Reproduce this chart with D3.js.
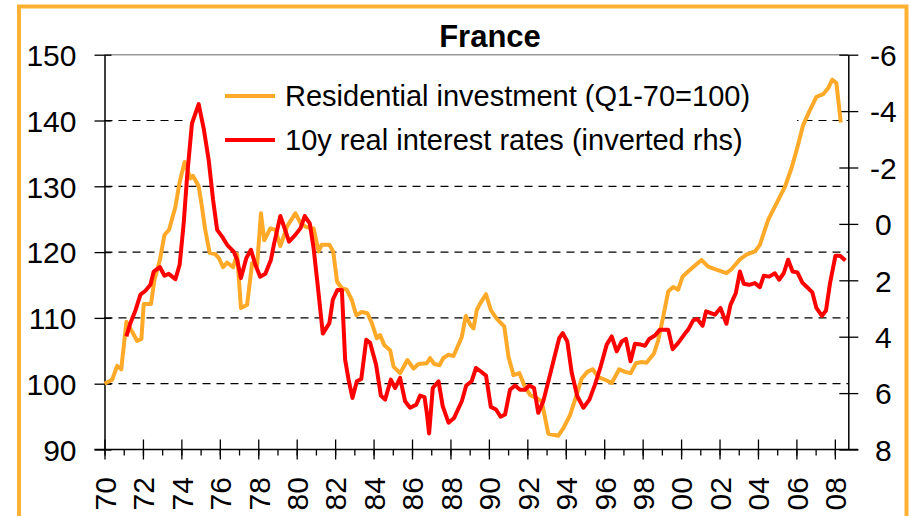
<!DOCTYPE html>
<html><head><meta charset="utf-8">
<script src="https://cdn.jsdelivr.net/npm/d3@7"></script>
<style>html,body{margin:0;padding:0;background:#fff;overflow:hidden}text{font-family:"Liberation Sans",Arial,sans-serif;fill:#000}</style>
</head><body>
<svg id="c" width="910" height="516"></svg>
<script>
const title = "France";
const legendLabels = ["Residential investment (Q1-70=100)", "10y real interest rates (inverted rhs)"];
const leftTicks = [90, 100, 110, 120, 130, 140, 150];
const rightTicks = [-6, -4, -2, 0, 2, 4, 6, 8];
const yearTicks = d3.range(1970, 2009, 2);
const yearLabels = yearTicks.map(y => String(y % 100).padStart(2, "0"));

const resYears = [1970.0,1970.4,1970.66,1970.87,1971.14,1971.44,1971.7,1971.92,1972.04,1972.42,1972.6,1972.88,1973.12,1973.36,1973.69,1973.9,1974.17,1974.47,1974.6,1974.9,1975.07,1975.24,1975.47,1975.76,1975.95,1976.17,1976.38,1976.69,1976.9,1977.1,1977.42,1977.68,1977.94,1978.14,1978.31,1978.63,1978.89,1979.15,1979.5,1979.93,1980.2,1980.5,1980.88,1981.14,1981.3,1981.7,1981.9,1982.1,1982.35,1982.6,1982.87,1983.1,1983.39,1983.68,1983.91,1984.17,1984.34,1984.55,1984.86,1985.04,1985.38,1985.76,1986.08,1986.34,1986.77,1986.94,1987.15,1987.43,1987.63,1987.9,1988.16,1988.59,1988.8,1989.05,1989.2,1989.37,1989.55,1989.85,1990.1,1990.4,1990.8,1991.02,1991.28,1991.59,1991.83,1992.14,1992.49,1992.75,1993.09,1993.61,1993.87,1994.22,1994.53,1994.83,1995.12,1995.4,1995.69,1996.04,1996.39,1996.78,1997.08,1997.37,1997.65,1997.95,1998.2,1998.59,1998.81,1999.07,1999.33,1999.59,1999.85,2000.08,2000.54,2001.06,2001.41,2001.76,2002.36,2002.62,2003.06,2003.4,2003.84,2004.1,2004.3,2004.53,2004.88,2005.4,2005.74,2006.04,2006.35,2006.66,2007.04,2007.39,2007.65,2007.87,2008.08,2008.31];
const resValues = [100,100.6,102.7,102.2,109.4,107.9,106.5,106.8,112.1,112.1,115.8,118.8,122.6,123.4,126.9,130.5,133.7,131.2,131.6,130,126.9,123.4,119.9,119.7,119.1,117.7,118.4,117.7,119.7,111.5,112,118.3,118,125.9,121.8,123.6,123.4,120.9,123.9,125.9,124.4,123.8,123.6,120.1,121.1,121.1,120.1,115.5,114.5,114.3,112.7,110.4,110.9,110.7,109.2,106.9,107.4,105.9,105.1,102.6,101.6,103.6,102.3,103,103.1,103.9,103,102.8,103.9,104.4,104.2,107.1,110.3,108.9,108.4,111.2,112.2,113.6,111.2,109.9,108.7,104.1,101.3,101.6,99.8,98.3,97.8,97.3,92.4,92.1,93.2,95.2,98,100.8,101.8,102.2,101,100.6,100.1,102.2,101.8,101.6,103.1,103.3,103.2,104.6,106.6,110.2,114,114.7,114.3,116.3,117.5,118.8,117.8,117.4,116.8,117.4,118.9,119.6,120.1,121.1,122.9,124.9,126.9,129.9,132.7,135.8,139.3,141.3,143.6,144,144.9,146.2,145.7,139.7];

const rateYears = [1971.14,1971.35,1971.61,1971.87,1972.13,1972.39,1972.56,1972.88,1973.12,1973.34,1973.69,1973.91,1974.12,1974.3,1974.55,1974.9,1975.16,1975.42,1975.65,1975.86,1976.12,1976.38,1976.72,1976.9,1977.1,1977.38,1977.62,1977.85,1978.1,1978.37,1978.66,1978.83,1979.15,1979.4,1979.6,1979.93,1980.2,1980.42,1980.68,1980.88,1981.1,1981.36,1981.7,1981.88,1982.12,1982.35,1982.52,1982.7,1982.9,1983.13,1983.36,1983.62,1983.82,1984.13,1984.38,1984.6,1984.9,1985.12,1985.38,1985.64,1985.9,1986.22,1986.42,1986.65,1986.77,1986.89,1987.08,1987.38,1987.6,1987.9,1988.19,1988.59,1988.82,1989.1,1989.33,1989.63,1989.85,1990.1,1990.37,1990.61,1990.84,1991.1,1991.36,1991.62,1991.88,1992.1,1992.35,1992.57,1992.83,1993.14,1993.44,1993.66,1993.84,1994.08,1994.31,1994.6,1994.92,1995.23,1995.52,1995.82,1996.13,1996.39,1996.65,1996.91,1997.13,1997.37,1997.6,1997.9,1998.12,1998.34,1998.64,1998.9,1999.33,1999.56,1999.85,2000.2,2000.37,2000.63,2000.84,2001.12,2001.3,2001.76,2002.05,2002.36,2002.57,2002.85,2003.06,2003.26,2003.54,2003.84,2004.1,2004.3,2004.58,2004.88,2005.1,2005.34,2005.57,2005.8,2006.05,2006.31,2006.52,2006.83,2007.04,2007.33,2007.54,2007.75,2008.03,2008.27,2008.55];
const rateValues = [3.99,3.51,3.07,2.51,2.37,2.16,1.69,1.53,1.84,1.77,1.96,1.45,-0.02,-1.7,-3.56,-4.25,-3.39,-2.27,-0.85,0.21,0.45,0.74,0.98,1.27,1.92,1.21,0.92,1.45,1.87,1.77,1.27,0.68,-0.28,0.21,0.63,0.39,0.15,-0.28,-0.02,0.86,2.22,3.89,3.52,2.69,2.34,2.34,4.81,5.52,6.17,5.58,5.5,4.11,4.22,4.99,6.09,6.23,5.52,5.82,5.46,6.29,6.52,6.41,6.09,6.14,6.7,7.43,5.82,5.58,6.47,7.05,6.88,6.29,5.73,5.58,5.11,5.26,5.38,6.49,6.58,6.84,6.76,5.88,5.73,5.88,5.88,5.73,5.82,6.7,6.29,5.46,4.64,4.05,3.87,4.17,5.28,6.11,6.52,6.23,5.7,5.05,4.28,3.99,4.52,4.17,4.08,4.87,4.25,4.28,4.32,4.08,3.96,3.75,3.75,4.44,4.22,3.89,3.75,3.42,3.37,3.61,3.1,3.22,2.98,3.54,2.87,2.45,1.69,2.12,2.16,2.1,2.24,1.84,1.87,1.75,1.98,1.75,1.27,1.69,1.72,2.08,2.22,2.43,2.98,3.26,3.07,2.1,1.13,1.13,1.3];

const ORANGE = "#FFA928", RED = "#FF0000";
const L = 104.5, R = 848.3, T = 54.7, B = 449.5;

const svg = d3.select("#c");
svg.append("rect").attr("x", 19).attr("y", 6.5).attr("width", 887.5).attr("height", 700)
  .attr("fill", "#fff").attr("stroke", "#FFB133").attr("stroke-width", 4);

const x = d3.scaleLinear().domain([1970, 2008.7]).range([L, R]);
const yL = d3.scaleLinear().domain([90, 150]).range([B, T]);
const yR = d3.scaleLinear().domain([8, -6]).range([B, T]);

// gridlines
svg.append("g").selectAll("line").data(leftTicks.filter(v => v > 90 && v < 150)).join("line")
  .attr("x1", L).attr("x2", R).attr("y1", d => yL(d)).attr("y2", d => yL(d))
  .attr("stroke", "#000").attr("stroke-width", 1.2).attr("stroke-dasharray", "8,6");

// legend background
svg.append("rect").attr("x", 183).attr("y", 68).attr("width", 614).attr("height", 95).attr("fill", "#fff");

// top border
svg.append("line").attr("x1", L).attr("x2", R).attr("y1", T).attr("y2", T)
  .attr("stroke", "#999").attr("stroke-width", 1.5);

// left axis
const gL = svg.append("g").attr("transform", `translate(${L},0)`)
  .call(d3.axisLeft(yL).tickValues(leftTicks).tickSizeInner(10).tickSizeOuter(0).tickPadding(28));
gL.select(".domain").attr("stroke", "#000").attr("stroke-width", 1.5);
gL.selectAll(".tick line").attr("x2", 7).attr("x1", -10).attr("stroke", "#000").attr("stroke-width", 1.3);
gL.selectAll(".tick text").attr("font-size", 30).attr("x", -28).attr("dy", "0.36em").style("font-family", '"Liberation Sans",Arial');

// right axis
const gR = svg.append("g").attr("transform", `translate(${R},0)`)
  .call(d3.axisRight(yR).tickValues(rightTicks).tickSizeOuter(0).tickFormat(d => String(d)));
gR.select(".domain").attr("stroke", "#000").attr("stroke-width", 1.5);
gR.selectAll(".tick line").attr("x1", -9).attr("x2", 10).attr("stroke", "#000").attr("stroke-width", 1.3);
gR.selectAll(".tick text").attr("font-size", 30).attr("x", 35).attr("text-anchor", "middle").attr("dy", "0.36em")
  .style("font-family", '"Liberation Sans",Arial');

// x axis minor ticks
const gxm = svg.append("g").attr("transform", `translate(0,${B})`)
  .call(d3.axisBottom(x).tickValues(d3.range(1970, 2009)).tickSize(6).tickFormat(""));
gxm.select(".domain").remove();
gxm.selectAll(".tick line").attr("stroke", "#000").attr("stroke-width", 1.3);

// x axis major
const gx = svg.append("g").attr("transform", `translate(0,${B})`)
  .call(d3.axisBottom(x).tickValues(yearTicks).tickSizeOuter(0).tickFormat((d, i) => yearLabels[i]));
gx.select(".domain").attr("d", `M${L - 10},0H${R + 10}`).attr("stroke", "#000").attr("stroke-width", 1.5);
gx.selectAll(".tick line").attr("y1", -10).attr("y2", 10).attr("stroke", "#000").attr("stroke-width", 1.3);
gx.selectAll(".tick text").attr("font-size", 30).attr("text-anchor", "end")
  .attr("transform", "rotate(-90)").attr("x", -27.5).attr("y", 0).attr("dy", "0.36em")
  .style("font-family", '"Liberation Sans",Arial');

// series
const resData = resYears.map((t, i) => [t, resValues[i]]);
const rateData = rateYears.map((t, i) => [t, rateValues[i]]);
svg.append("path").datum(resData)
  .attr("d", d3.line().x(d => x(d[0])).y(d => yL(d[1])))
  .attr("fill", "none").attr("stroke", ORANGE).attr("stroke-width", 4).attr("stroke-linejoin", "round");
svg.append("path").datum(rateData)
  .attr("d", d3.line().x(d => x(d[0])).y(d => yR(d[1])))
  .attr("fill", "none").attr("stroke", RED).attr("stroke-width", 4).attr("stroke-linejoin", "round");

// legend
const lg = svg.append("g");
const legendColors = [ORANGE, RED];
legendLabels.forEach((lab, i) => {
  const yy = 96 + i * 44;
  lg.append("line").attr("x1", 225).attr("x2", 275).attr("y1", yy).attr("y2", yy)
    .attr("stroke", legendColors[i]).attr("stroke-width", 4);
  lg.append("text").attr("x", 285).attr("y", yy + 9.8).attr("font-size", 29).text(lab);
});

// title
svg.append("text").attr("x", 490).attr("y", 47).attr("text-anchor", "middle")
  .attr("font-size", 31).attr("font-weight", "bold").text(title);
</script>
</body></html>
